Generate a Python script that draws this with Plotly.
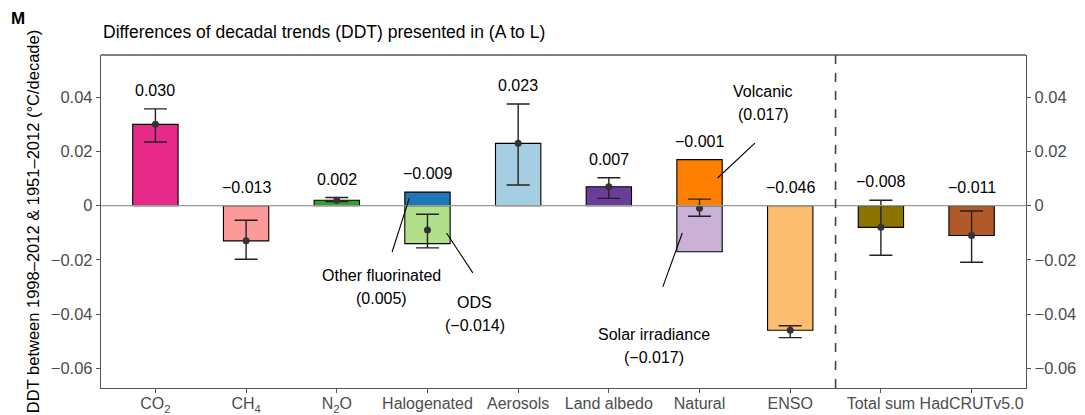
import plotly.graph_objects as go

# Categories and values (°C/decade)
categories = ["CO<sub>2</sub>", "CH<sub>4</sub>", "N<sub>2</sub>O", "Halogenated", "Aerosols",
              "Land albedo", "Natural", "ENSO", "Total sum", "HadCRUTv5.0"]
net_values = [0.030, -0.013, 0.002, -0.009, 0.023, 0.007, -0.001, -0.046, -0.008, -0.011]
err_upper = [0.0357, -0.0054, 0.0030, -0.0032, 0.0375, 0.0103, 0.0024, -0.0443, 0.0020, -0.0020]
err_lower = [0.0235, -0.0198, 0.0015, -0.0156, 0.0076, 0.0027, -0.0039, -0.0487, -0.0183, -0.0209]

# Bar segments: primary segment per category, plus the split segment for stacked bars
segment_a = [0.030, -0.013, 0.002, 0.005, 0.023, 0.007, 0.017, -0.046, -0.008, -0.011]
segment_b = [None, None, None, -0.014, None, None, -0.017, None, None, None]
colors_a = ["#E7298A", "#FB9A99", "#33A02C", "#1F78B4", "#A6CEE3", "#6A3D9A",
            "#FF7F00", "#FDBF6F", "#8C7400", "#B15928"]
colors_b = ["#B2DF8A" if c == "Halogenated" else "#CAB2D6" for c in categories]

y_ticks = [-0.06, -0.04, -0.02, 0, 0.02, 0.04]
y_tick_text = ["\u22120.06", "\u22120.04", "\u22120.02", "0", "0.02", "0.04"]
y_range = [-0.0673, 0.0556]

FONT = "Liberation Sans, Arial, sans-serif"
TICK_FONT = dict(family=FONT, size=16.5, color="#4D4D4D")
idx = list(range(len(categories)))

fig = go.Figure()
fig.add_trace(go.Bar(x=idx, y=segment_a, width=0.5, marker=dict(color=colors_a, line=dict(color="black", width=1.1)),
                     showlegend=False, hoverinfo="skip"))
fig.add_trace(go.Bar(x=idx, y=segment_b, width=0.5, marker=dict(color=colors_b, line=dict(color="black", width=1.1)),
                     showlegend=False, hoverinfo="skip"))

# Zero reference line
fig.add_shape(type="line", xref="paper", yref="y", x0=0, x1=1, y0=0, y1=0,
              line=dict(color="#999999", width=1.4), layer="above")

fig.add_trace(go.Scatter(
    x=idx, y=net_values, mode="markers",
    marker=dict(color="#333333", size=7),
    error_y=dict(type="data", symmetric=False,
                 array=[u - v for u, v in zip(err_upper, net_values)],
                 arrayminus=[v - l for l, v in zip(err_lower, net_values)],
                 color="#222222", thickness=1.4, width=11.5),
    showlegend=False, hoverinfo="skip"))

# Value labels above each bar
for i, v in enumerate(net_values):
    tops = [0, err_upper[i]] + [s for s in (segment_a[i], segment_b[i]) if s is not None]
    label = f"{v:.3f}".replace("-", "\u2212")
    fig.add_annotation(x=i, y=max(tops), text=label, showarrow=False, yanchor="bottom",
                       yshift=8, font=dict(family=FONT, size=16, color="black"))

# Component call-outs: (text lines, x, y of first line, leader line start, leader line end)
callouts = [
    (["Other fluorinated", "(0.005)"], 3 - 0.51, -0.0256, (3 - 0.20, 0.0028), (3 - 0.39, -0.0171)),
    (["ODS", "(\u22120.014)"], 3 + 0.52, -0.0359, (3 + 0.21, -0.0101), (3 + 0.50, -0.0248)),
    (["Volcanic", "(0.017)"], 6 + 0.70, 0.0420, (6 + 0.20, 0.0102), (6 + 0.61, 0.0231)),
    (["Solar irradiance", "(\u22120.017)"], 6 - 0.50, -0.0477, (6 - 0.19, -0.0101), (6 - 0.405, -0.0300)),
]
line_gap = 0.0085
for lines, tx, ty, p0, p1 in callouts:
    for k, t in enumerate(lines):
        fig.add_annotation(x=tx, y=ty - k * line_gap, text=t, showarrow=False,
                           font=dict(family=FONT, size=16, color="black"))
    fig.add_shape(type="line", xref="x", yref="y", x0=p0[0], y0=p0[1], x1=p1[0], y1=p1[1],
                  line=dict(color="black", width=1.1))

# Divider between contributors and totals
fig.add_shape(type="line", xref="x", yref="paper", x0=7.5, x1=7.5, y0=0, y1=1,
              line=dict(color="#444444", width=1.6, dash="dash"))

axis_line = dict(showline=True, linecolor="#555555", linewidth=1.4, mirror=False, automargin=False)

fig.update_layout(
    width=1085, height=415,
    margin=dict(l=101, r=59, t=55, b=27),
    paper_bgcolor="white", plot_bgcolor="white",
    barmode="relative",
    font=dict(family=FONT, size=16, color="#4D4D4D"),
    xaxis=dict(range=[-0.6, 9.6], tickmode="array", tickvals=idx, ticktext=categories,
               ticks="outside", ticklen=4, tickcolor="#555555", showgrid=False, zeroline=False,
               ticklabelstandoff=-3,
               tickfont=dict(family=FONT, size=16, color="#4D4D4D"), **axis_line),
    yaxis=dict(range=y_range, tickmode="array", tickvals=y_ticks, ticktext=y_tick_text,
               ticks="outside", ticklen=4, tickcolor="#555555", showgrid=False, zeroline=False,
               tickfont=TICK_FONT,
               title=dict(text="DDT between 1998\u20132012 & 1951\u20132012 (\u00b0C/decade)",
                          font=dict(family=FONT, size=16.5, color="black"), standoff=6),
               **axis_line),
    yaxis2=dict(range=y_range, overlaying="y", side="right", tickmode="array", tickvals=y_ticks,
                ticktext=y_tick_text, ticks="outside", ticklen=4, tickcolor="#555555",
                showgrid=False, zeroline=False, tickfont=TICK_FONT, **axis_line),
)

# Invisible trace to activate the right-hand axis
fig.add_trace(go.Scatter(x=[0], y=[0], yaxis="y2", mode="markers", marker=dict(opacity=0),
                         showlegend=False, hoverinfo="skip"))

# Top border of the panel
fig.add_shape(type="line", xref="paper", yref="paper", x0=0, x1=1, y0=1, y1=1,
              line=dict(color="#555555", width=1.4))

fig.add_annotation(xref="paper", yref="paper", x=0, y=1, yshift=11, xanchor="left", yanchor="bottom",
                   text="Differences of decadal trends (DDT) presented in (A to L)", showarrow=False,
                   font=dict(family=FONT, size=17.5, color="black"))
fig.add_annotation(xref="paper", yref="paper", x=-0.1, y=1, yshift=37, xanchor="left", yanchor="middle",
                   text="<b>M</b>", showarrow=False, font=dict(family=FONT, size=17, color="black"))

fig.write_html("out.html")
